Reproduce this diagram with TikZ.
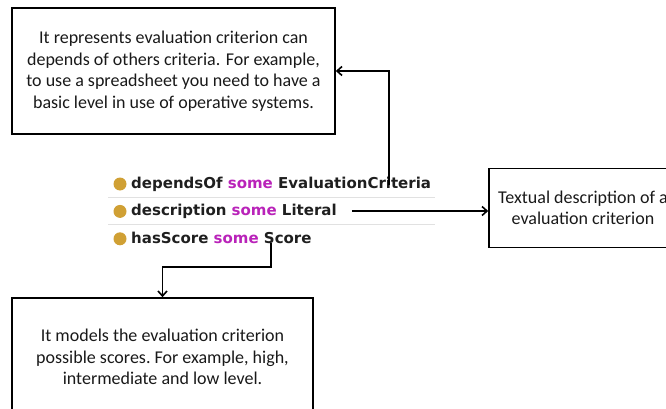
\documentclass[tikz,border=0pt]{standalone}
\usepackage{fontspec}
\setmainfont{Carlito}
\newfontfamily\protegefont{DejaVu Sans}
\usetikzlibrary{arrows.meta,positioning}
\definecolor{kwpurple}{RGB}{185,35,185}
\definecolor{bulletgold}{RGB}{208,160,52}
\definecolor{rulegray}{RGB}{225,225,225}
\newcommand{\kw}[1]{\textcolor{kwpurple}{#1}}

\begin{document}
\begin{tikzpicture}[x=1pt,y=-1pt,
	note/.style={draw,line width=1.6pt,align=center,text=black!90,
		font=\fontsize{18}{21.5}\selectfont},
	prop/.style={anchor=west,inner sep=0pt,text=black!88,
		font=\protegefont\bfseries\fontsize{15}{17}\selectfont},
	dot/.style={circle,fill=bulletgold,inner sep=0pt,minimum size=13pt},
	link/.style={line width=1.6pt,-{Straight Barb[length=5pt,width=9pt]}}]
	\useasboundingbox (0,0) rectangle (666,409);
	\clip (0,0) rectangle (666,409);

	% the class restrictions
	\node[dot] (d1) at (120,184) {};
	\node[dot, below = 14pt of d1] (d2) {};
	\node[dot, below = 14pt of d2] (d3) {};
	\node[prop] (r1) at (131,184) {dependsOf \kw{some} EvaluationCriteria};
	\node[prop] (r2) at (131,211) {description \kw{some} Literal};
	\node[prop] (r3) at (131,238) {hasScore \kw{some} Score};
	\draw[rulegray, line width=1pt] (108,197) -- (435,197);
	\draw[rulegray, line width=1pt] (108,224) -- (435,224);

	% explanation boxes
	\node[note, minimum width=323pt, minimum height=126pt] (dep) at (173.5,71)
		{It represents evaluation criterion can\\depends of others criteria. For example,\\to use a spreadsheet you need to have a\\basic level in use of operative systems.};
	\node[note, minimum width=188pt, minimum height=79pt] (desc) at (583,208)
		{Textual description of a\\evaluation criterion};
	\node[note, minimum width=301pt, minimum height=118pt] (score) at (162.5,357)
		{It models the evaluation criterion\\possible scores.\ For example, high,\\intermediate and low level.};

	\draw[link] ([xshift=-42pt,yshift=-8pt]r1.north east) |- (dep.east);
	\draw[link] ([xshift=15pt]r2.east) -- (r2.east -| desc.west);
	\draw[link] ([xshift=-41pt,yshift=1pt]r3.south east) -- ++(0,24) -| (score.north);
\end{tikzpicture}
\end{document}
